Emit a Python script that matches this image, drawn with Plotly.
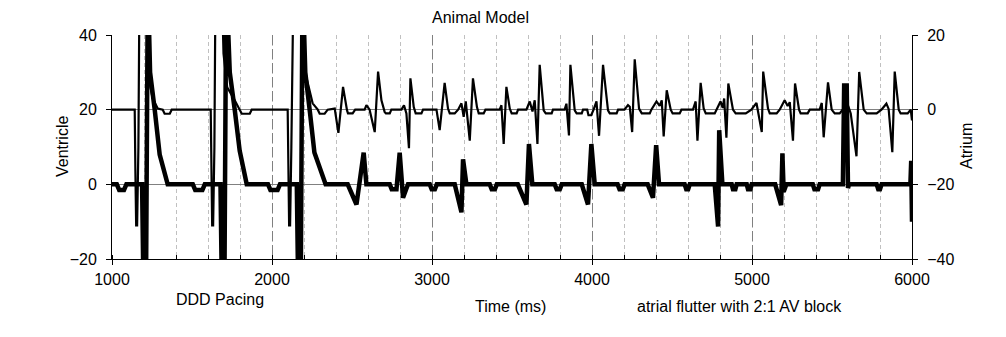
import plotly.graph_objects as go

# ---------------- data ----------------
# Atrium channel (thin line, right axis), time in ms
atrium_time = [
    1000, 1142, 1146, 1151, 1157, 1165, 1176, 1195, 1222, 1240, 1254, 1286, 1317, 1329, 1361, 1373,
    1617, 1621, 1626, 1632, 1640, 1651, 1670, 1697, 1720, 1767, 1798, 1811, 1861, 1873,
    2098, 2102, 2107, 2113, 2121, 2142, 2160, 2185, 2204, 2254, 2286, 2298, 2329, 2348,
    2392, 2415, 2444, 2469, 2475, 2504, 2520,
    2579, 2590, 2610, 2642, 2663, 2684, 2704, 2712, 2736, 2746,
    2809, 2825, 2840, 2856, 2865, 2886, 2898, 2934, 2944,
    3028, 3048, 3079, 3100, 3111, 3142, 3163,
    3184, 3198, 3211, 3236, 3256, 3281, 3292, 3323, 3334,
    3423, 3434, 3448, 3465, 3486, 3498, 3529, 3538,
    3590, 3611, 3628, 3642, 3659, 3673, 3698, 3711, 3748, 3756,
    3829, 3840, 3856, 3865, 3892, 3904, 3936, 3944, 3970, 3978, 3995, 4010,
    4028, 4044, 4069, 4100, 4111, 4154, 4163,
    4203, 4225, 4236, 4251, 4267, 4294, 4311, 4361, 4371,
    4403, 4423, 4436, 4448, 4467, 4492, 4504, 4548, 4559,
    4631, 4648, 4659, 4679, 4698, 4711, 4767, 4778,
    4803, 4817, 4826, 4840, 4852, 4881, 4898, 4961, 4996,
    5028, 5061, 5070, 5100, 5111, 5154, 5173,
    5204, 5223, 5236, 5256, 5269, 5294, 5304, 5348, 5361,
    5423, 5436, 5448, 5475, 5498, 5517, 5548, 5567,
    5590, 5601, 5617, 5653, 5670, 5698, 5717, 5779, 5809,
    5840, 5854, 5877, 5892, 5917, 5929, 5973, 5992, 6000,
]
atrium_mv = [
    0, 0, -16, -31, -31, -10, 60, 60, 15, 6, 3, 0.3, 0, -1.1, -1.1, 0,
    0, -16, -31, -31, -10, 60, 60, 15, 6, 2.5, 0, -1.1, -1.1, 0,
    0, -16, -31, -31, -10, 60, 60, 25, 10.6, 1.7, 0, -1.1, -1.1, 0,
    0.3, -6.2, 6.1, -0.2, -1, -1, 0,
    0, 1.2, 0, -6, 10.2, 2.5, -0.6, -1, -1, 0,
    0, 1.2, -1, -10.3, 8.4, 0.7, -1, -1, 0,
    0, -5.5, 7.2, 0.3, -1, -1, 0,
    1.7, -1.9, 2.2, -8.3, 8.4, 0.7, -1, -1, 0,
    0, 1.2, -9.2, 6.1, 0.3, -1, -1, 0,
    0, 2.2, -0.5, 2.5, -9.2, 12, -0.2, -1, -1, 0,
    0, 1.6, -6.9, 12, -0.2, -1, -1, 0, 0, -1.5, -1.5, 0,
    2.2, -7, 12, -0.2, -1, -1, 0,
    0, 1.2, 0.8, -6, 13.5, 0.3, -1, -1, 0,
    2.2, 1, 2.5, -7.2, 5.2, 0, -1, -1, 0,
    0, 2.2, -8.3, 7.2, 0.3, -1, -1, 0,
    2.2, 0.5, 3, -7.5, 7, 0, -1, -1, 0,
    1.8, -6, 10.2, 0.3, -1, -1, 0,
    2.5, 1, 2, -8.3, 7, 0, -1, -1, 0,
    0, 1.8, -7.4, 7.3, 0, -1, -1, 0,
    0, 1, -1, -12.5, 10.1, 0, -1, -1, 0,
    1.6, 0.2, -11.4, 10.2, 0, -1, -1, 0, -2.9,
]

# Ventricle channel (thick line, left axis), time in ms
ventricle_time = [
    1000, 1030, 1045, 1075, 1090,
    1188, 1198, 1212, 1224, 1238, 1267, 1298, 1348,
    1505, 1520, 1565, 1580,
    1678, 1688, 1702, 1714, 1736, 1767, 1798, 1842,
    1975, 1990, 2035, 2050,
    2155, 2165, 2179, 2191, 2208, 2238, 2265, 2335,
    2473, 2528, 2573, 2590,
    2736, 2748, 2778, 2798, 2819, 2850,
    2986, 2998, 3018, 3030,
    3142, 3184, 3194, 3215,
    3361, 3373, 3393, 3405,
    3536, 3590, 3606, 3627,
    3767, 3779, 3799, 3811,
    3936, 3975, 3996, 4017,
    4160, 4172, 4192, 4204,
    4348, 4381, 4401, 4419,
    4579, 4589, 4601, 4611,
    4767, 4788, 4795, 4815,
    4873, 4881, 4896, 4904,
    4967, 4975, 4990, 4998,
    5145, 5182, 5190, 5198, 5215,
    5380, 5390, 5413, 5423,
    5568, 5576, 5592, 5600, 5606,
    5779, 5789, 5800, 5810,
    5990, 5995, 6000,
]
ventricle_mv = [
    0, 0, -1.5, -1.5, 0,
    0, -32, -32, 55, 30, 20, 8, 0,
    0, -1.5, -1.5, 0,
    0, -32, -32, 55, 30, 20, 9, 0,
    0, -1.5, -1.5, 0,
    0, -32, -32, 55, 30, 19, 8.5, 0,
    0, -5.4, 8.5, 0,
    0, -1.3, -1.3, 8.5, -3.6, 0,
    0, -1.3, -1.3, 0,
    0, -7.5, 6.7, 0,
    0, -1.3, -1.3, 0,
    0, -5.4, 10.8, 0,
    0, -1.3, -1.3, 0,
    0, -5.4, 10.8, 0,
    0, -1.3, -1.3, 0,
    0, -3.6, 10.5, 0,
    0, -1.3, -1.3, 0,
    0, -11.3, 14.5, 0,
    0, -1.3, -1.3, 0,
    0, -1.3, -1.3, 0,
    0, -5.6, 8.3, -2, 0,
    0, -1.3, -1.3, 0,
    0, 26.5, 26.5, -1, 0,
    0, -1.3, -1.3, 0,
    0, 6.3, -10,
]

x_ticks = [1000, 2000, 3000, 4000, 5000, 6000]
left_ticks = [-20, 0, 20, 40]
right_ticks = [-40, -20, 0, 20]

# ---------------- figure ----------------
FONT = "Liberation Sans, Arial, sans-serif"
fig = go.Figure()
fig.add_trace(go.Scatter(x=ventricle_time, y=ventricle_mv, mode="lines",
                         line=dict(color="black", width=4.5), yaxis="y",
                         name="Ventricle", showlegend=False, hoverinfo="skip"))
fig.add_trace(go.Scatter(x=atrium_time, y=atrium_mv, mode="lines",
                         line=dict(color="black", width=2.2), yaxis="y2",
                         name="Atrium", showlegend=False, hoverinfo="skip"))

W, H = 1006, 337
L, R, T, B = 112, 94, 35, 78
pw, ph = W - L - R, H - T - B

def px(xp):
    return (xp - L) / pw

def py(yp):
    return (H - B - yp) / ph

fig.update_layout(
    width=W, height=H,
    margin=dict(l=L, r=R, t=T, b=B, pad=0),
    paper_bgcolor="white", plot_bgcolor="white",
    font=dict(family=FONT, size=16, color="black"),
    showlegend=False,
    xaxis=dict(range=[1000, 6000], tickvals=x_ticks, ticktext=[str(v) for v in x_ticks],
               showgrid=True, gridcolor="#808080", griddash="10px,4px", gridwidth=1,
               showline=True, linecolor="black", linewidth=1,
               ticks="outside", ticklen=5, tickcolor="black", ticklabelstandoff=1,
               zeroline=False,
               minor=dict(dtick=200, tick0=1000, showgrid=True, gridcolor="#c0c0c0",
                          griddash="4px,3px", gridwidth=1,
                          ticks="inside", ticklen=4, tickcolor="black")),
    yaxis=dict(range=[-20, 40], tickvals=left_ticks, showgrid=True, gridcolor="#808080",
               gridwidth=1, showline=True, linecolor="black", linewidth=1,
               ticks="outside", ticklen=5, tickcolor="black", ticklabelstandoff=6,
               zeroline=False),
    yaxis2=dict(range=[-40, 20], tickvals=right_ticks, overlaying="y", side="right",
                showgrid=False, showline=True, linecolor="black", linewidth=1,
                ticks="outside", ticklen=5, tickcolor="black", ticklabelstandoff=6,
                zeroline=False),
)

ann = [
    ("Animal Model", 480, 18, 0),
    ("Ventricle", 62, 147, -90),
    ("Atrium", 966, 146, -90),
    ("DDD Pacing", 220, 299, 0),
    ("Time (ms)", 510, 306, 0),
    ("atrial flutter with 2:1 AV block", 739, 306, 0),
]
for text, x0, y0, ang in ann:
    fig.add_annotation(text=text, x=px(x0), y=py(y0), xref="paper", yref="paper",
                       showarrow=False, xanchor="center", yanchor="middle",
                       textangle=ang, font=dict(family=FONT, size=16, color="black"))

fig.write_html("out.html")
